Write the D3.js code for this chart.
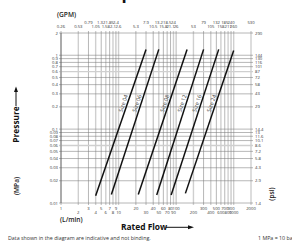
<!DOCTYPE html>
<html>
<head>
<meta charset="utf-8">
<script src="https://cdn.jsdelivr.net/npm/d3@7"></script>
<style>
    body { margin: 0; background: #fff; }
    svg { display: block; font-family: "Open Sans", sans-serif; }
</style>
</head>
<body>
<svg id="chart" width="292" height="241"></svg>
<script>
// flow gridlines (L/min), split by label row
const flowUpper = [1, 3, 5, 7, 9, 20, 40, 60, 80, 100, 300, 500, 700, 900, 2000];
const flowLower = [2, 4, 6, 8, 10, 30, 50, 70, 90, 200, 400, 600, 800, 1000];
// GPM conversions on top, two rows
const gpmUpper = [[3, "0.79"], [5, "1.32"], [7, "1.85"], [9, "2.4"], [30, "7.9"], [50, "13.2"], [70, "18.5"], [90, "24"],
    [300, "79"], [500, "132"], [700, "185"], [900, "240"], [2000, "530"]];
const gpmLower = [[1, "0.26"], [2, "0.53"], [4, "1.05"], [6, "1.58"], [8, "2.1"], [10, "2.6"], [20, "5.3"], [40, "10.5"],
    [60, "15.8"], [80, "21.1"], [100, "26"], [200, "53"], [400, "105"], [600, "158"], [800, "211"], [1000, "260"]];
// pressure gridlines (MPa) and psi labels
const mpaTicks = [2, 1, 0.9, 0.8, 0.7, 0.6, 0.5, 0.4, 0.3, 0.2, 0.1, 0.09, 0.08, 0.07, 0.06, 0.05, 0.04, 0.03, 0.02, 0.01];
const psiLabels = ["290", "144", "130", "116", "101", "87", "72", "58", "43", "29", "14.4", "13", "11.6", "10.1", "8.6",
    "7.2", "5.8", "4.3", "2.9", "1.4"];
const grayFlow = [2, 4, 6, 8, 10, 30, 50, 70, 90, 200, 400, 600, 800, 1000, 2000];
const grayMpa = [0.6, 0.06];

// size curves: [flow start, flow end], [drop start, drop end]
const sizeNames = ["Size 04", "Size 06", "Size 08", "Size 12", "Size 16", "Size 24"];
const sizeFlow = [[4, 30], [7.5, 50], [22, 155], [46, 300], [82, 550], [145, 1000]];
const sizeDrop = [[0.0125, 1.2], [0.013, 1.2], [0.013, 1.2], [0.0128, 1.2], [0.0128, 1.2], [0.0135, 1.16]];
const labelDrop = 0.215;

const svg = d3.select("#chart");
const x = d3.scaleLog().domain([1, 2000]).range([61, 251]);
const y = d3.scaleLog().domain([0.01, 2]).range([203, 33]);
const fmt = d => String(d);

// title, cut off at the top
svg.append("text").attr("x", 12).attr("y", -1.5)
    .attr("font-size", 17).attr("font-weight", 700).attr("fill", "#111")
    .text("Pressure Drop");

// grid
const grid = svg.append("g");
const allFlow = flowUpper.concat(flowLower).sort((a, b) => a - b);
grid.selectAll("line.v").data(allFlow).join("line")
    .attr("class", "v")
    .attr("x1", d => x(d)).attr("x2", d => x(d))
    .attr("y1", y(2) - 2).attr("y2", y(0.01) + 2)
    .attr("stroke", d => grayFlow.includes(d) ? "#cfcfcf" : "#7a7a7a")
    .attr("stroke-width", d => grayFlow.includes(d) ? 1.4 : 0.55);
grid.selectAll("line.h").data(mpaTicks).join("line")
    .attr("class", "h")
    .attr("x1", x(1) - 2).attr("x2", x(2000) + 2)
    .attr("y1", d => y(d)).attr("y2", d => y(d))
    .attr("stroke", d => grayMpa.includes(d) ? "#cfcfcf" : "#7a7a7a")
    .attr("stroke-width", d => grayMpa.includes(d) ? 1.4 : 0.55);
grid.append("line").attr("x1", x(1)).attr("x2", x(1)).attr("y1", y(2)).attr("y2", y(0.01))
    .attr("stroke", "#555").attr("stroke-width", 0.7);

// tick labels
const tl = svg.append("g").attr("font-size", 4.2).attr("fill", "#333");
tl.selectAll("text.bu").data(flowUpper).join("text").attr("class", "bu")
    .attr("x", d => x(d)).attr("y", 209.5).attr("text-anchor", "middle").text(fmt);
tl.selectAll("text.bl").data(flowLower).join("text").attr("class", "bl")
    .attr("x", d => x(d)).attr("y", 213.5).attr("text-anchor", "middle").text(fmt);
tl.selectAll("text.tu").data(gpmUpper).join("text").attr("class", "tu")
    .attr("x", d => x(d[0])).attr("y", 24).attr("text-anchor", "middle").text(d => d[1]);
tl.selectAll("text.tl").data(gpmLower).join("text").attr("class", "tl")
    .attr("x", d => x(d[0])).attr("y", 28).attr("text-anchor", "middle").text(d => d[1]);
tl.selectAll("text.l").data(mpaTicks).join("text").attr("class", "l")
    .attr("x", 58).attr("y", d => y(d) + 1.5).attr("text-anchor", "end").text(fmt);
tl.selectAll("text.r").data(mpaTicks).join("text").attr("class", "r")
    .attr("x", 255).attr("y", d => y(d) + 1.5).text((d, i) => psiLabels[i]);

// size curves
const curves = svg.append("g");
sizeNames.forEach((name, i) => {
    const pts = [[sizeFlow[i][0], sizeDrop[i][0]], [sizeFlow[i][1], sizeDrop[i][1]]];
    curves.append("line")
        .attr("x1", x(pts[0][0])).attr("y1", y(pts[0][1]))
        .attr("x2", x(pts[1][0])).attr("y2", y(pts[1][1]))
        .attr("stroke", "#111").attr("stroke-width", 1.5);
    // label position along the line (log space)
    const t = (Math.log(labelDrop) - Math.log(pts[0][1])) / (Math.log(pts[1][1]) - Math.log(pts[0][1]));
    const fl = Math.exp(Math.log(pts[0][0]) + t * (Math.log(pts[1][0]) - Math.log(pts[0][0])));
    const ang = Math.atan2(y(pts[1][1]) - y(pts[0][1]), x(pts[1][0]) - x(pts[0][0])) * 180 / Math.PI;
    curves.append("text")
        .attr("transform", `translate(${x(fl)},${y(labelDrop)}) rotate(${ang})`)
        .attr("y", -2).attr("text-anchor", "middle")
        .attr("font-size", 5.6).attr("fill", "#444")
        .text(name);
});

// axis titles
svg.append("text").attr("x", 57).attr("y", 16.5)
    .attr("font-size", 6.6).attr("font-weight", 600).attr("fill", "#222").text("(GPM)");
svg.append("text").attr("x", 60).attr("y", 221.5)
    .attr("font-size", 6.6).attr("font-weight", 600).attr("fill", "#222").text("(L/min)");
svg.append("text").attr("transform", "translate(18.5,186) rotate(-90)").attr("text-anchor", "middle")
    .attr("font-size", 6.6).attr("font-weight", 600).attr("fill", "#222").text("(MPa)");
svg.append("text").attr("transform", "translate(273.5,194) rotate(-90)").attr("text-anchor", "middle")
    .attr("font-size", 6.6).attr("font-weight", 600).attr("fill", "#222").text("(psi)");

svg.append("text").attr("x", 121).attr("y", 230)
    .attr("font-size", 8.4).attr("font-weight", 700).attr("fill", "#111").text("Rated Flow");
svg.append("line").attr("x1", 166).attr("x2", 190).attr("y1", 227.3).attr("y2", 227.3)
    .attr("stroke", "#111").attr("stroke-width", 1);
svg.append("path").attr("d", "M194,227.3 L188,225.3 L188,229.3 Z").attr("fill", "#111");

svg.append("text").attr("transform", "translate(19,124.5) rotate(-90)").attr("text-anchor", "middle")
    .attr("font-size", 8.4).attr("font-weight", 700).attr("fill", "#111").text("Pressure");
svg.append("line").attr("x1", 16).attr("x2", 16).attr("y1", 106).attr("y2", 90)
    .attr("stroke", "#111").attr("stroke-width", 1);
svg.append("path").attr("d", "M16,86.5 L14,92 L18,92 Z").attr("fill", "#111");

// footnotes
svg.append("text").attr("x", 8).attr("y", 239.5)
    .attr("font-size", 5.3).attr("fill", "#333")
    .text("Data shown in the diagram are indicative and not binding.");
svg.append("text").attr("x", 258).attr("y", 239.5)
    .attr("font-size", 5.3).attr("fill", "#333")
    .text("1 MPa = 10 bar");
</script>
</body>
</html>
